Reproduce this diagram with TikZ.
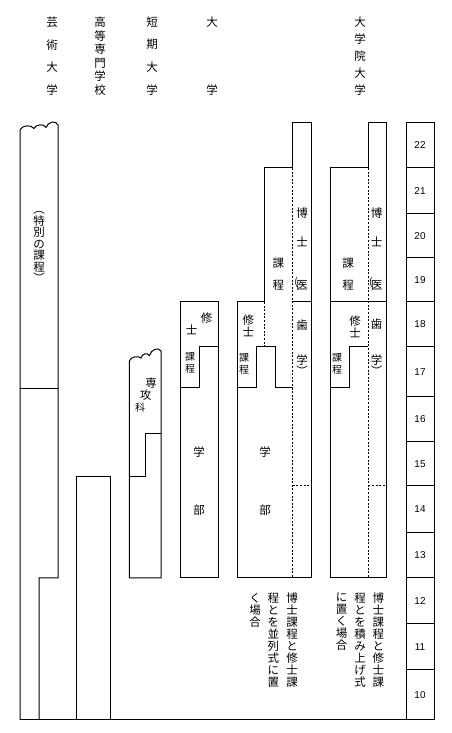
\documentclass[tikz,border=0pt]{standalone}
\usepackage{fontspec}
\newfontfamily\jpf{Noto Sans CJK JP}
\newfontfamily\numf{Liberation Sans}
\usepackage{tikz}
\tikzset{
  ln/.style={line width=1pt,black},
  dl/.style={line width=1pt,black,dash pattern=on 2pt off 1.6pt},
  jp/.style={font=\jpf\fontsize{11.5}{12}\selectfont,inner sep=0pt,align=center},
  vt/.style={font=\jpf\fontsize{11.5}{#1}\selectfont,inner sep=0pt,align=center},
  sm/.style={font=\jpf\fontsize{10}{11.5}\selectfont,inner sep=0pt,align=center},
  num/.style={font=\numf\fontsize{10}{12}\selectfont,inner sep=0pt}
}

\begin{document}
\begin{tikzpicture}[x=1pt,y=1pt]
\useasboundingbox (0,0) rectangle (452,733);
\node[vt=22.7] (geidai) at (52,677) {芸\\術\\大\\学};
\node[vt=13.5] (kosen) at (100,677) {高\\等\\専\\門\\学\\校};
\node[vt=22.7] (tandai) at (152,677) {短\\期\\大\\学};
\node[vt=68] (daigaku) at (212,677) {大\\学};
\node[vt=17] (daigakuin) at (360,677) {大\\学\\院\\大\\学};
\draw[ln] (20,13) -- (406,13);
\draw[ln] (39,13) -- (39,155) -- (58,155) -- (58,608)
  .. controls (56,613) and (48,611.5) .. (46,605.5)
  .. controls (44,609.5) and (36,609) .. (34,604.5)
  .. controls (31,608.5) and (22,608) .. (20,603) -- (20,13);
\draw[ln] (20,344) -- (58,344);
\node[vt=11.5] (tokubetsu) at (39,486) {︵\\特\\別\\の\\課\\程\\︶};
\draw[ln] (76.7,13) rectangle (110,256);
\draw[ln] (129.3,155) -- (129.3,372)
  .. controls (131,376.5) and (138,377.5) .. (141,375)
  .. controls (142,379.5) and (147,380.5) .. (149.5,377.5)
  .. controls (151,384) and (159,386) .. (161,382) -- (161,155) -- cycle;
\draw[ln] (129.3,256) -- (145,256) -- (145,299) -- (161,299);
\node[jp] (senko1) at (151,350) {専};
\node[jp] (senko2) at (145.7,338) {攻};
\node[sm] (senko3) at (140,325) {科};
\draw[ln] (180,155) rectangle (218.3,431);
\draw[ln] (180,345) -- (199.3,345) -- (199.3,386) -- (218.3,386);
\node[jp] (shu4a) at (206.7,415) {修};
\node[jp] (shu4b) at (191.7,403) {士};
\node[sm] (katei4) at (190,370) {課\\程};
\node[vt=58] (gakubu4) at (199,252) {学\\部};
\draw[ln] (237.3,155) -- (237.3,431) -- (264.3,431) -- (264.3,565) -- (292.7,565)
  -- (292.7,610) -- (311.7,610) -- (311.7,155) -- cycle;
\draw[ln] (292.7,431) -- (311.7,431);
\draw[ln] (237.3,345) -- (256,345) -- (256,386) -- (275,386) -- (275,345) -- (292.7,345);
\draw[dl] (264.3,431) -- (264.3,386);
\draw[dl] (292.7,565) -- (292.7,155);
\draw[dl] (292.7,247) -- (311.7,247);
\node[vt=11.7] (shu5) at (248.3,407) {修\\士};
\node[sm] (katei5) at (244,369) {課\\程};
\node[vt=22] (hakase5) at (278.3,459) {課\\程};
\node[jp] (haku5a) at (302,520) {博};
\node[jp] (haku5b) at (302,491) {士};
\node[sm] (paren5) at (296,451) {(};
\node[jp] (haku5c) at (302,448) {医};
\node[jp] (haku5d) at (302,408) {歯};
\node[vt=10] (haku5e) at (302,368) {学\\︶};
\node[vt=58] (gakubu5) at (265,252) {学\\部};
\draw[ln] (330,155) -- (330,565) -- (368.3,565) -- (368.3,610) -- (386.7,610)
  -- (386.7,155) -- cycle;
\draw[ln] (330,431) -- (386.7,431);
\draw[ln] (330,345) -- (349.3,345) -- (349.3,386) -- (368.3,386);
\draw[dl] (368.3,565) -- (368.3,155);
\draw[dl] (368.3,247) -- (386.7,247);
\node[vt=22] (hakase6) at (348,459) {課\\程};
\node[vt=10] (shu6) at (355,406.3) {修\\士};
\node[sm] (katei6) at (337,369) {課\\程};
\node[jp] (haku6a) at (376.7,520) {博};
\node[jp] (haku6b) at (376.7,491) {士};
\node[sm] (paren6) at (370.7,451) {(};
\node[jp] (haku6c) at (376.7,448) {医};
\node[jp] (haku6d) at (376.7,409) {歯};
\node[vt=10] (haku6e) at (376.7,368) {学\\︶};
\node[vt=12] (heiretsu1) at (292,93) {博\\士\\課\\程\\と\\修\\士\\課};
\node[vt=12] (heiretsu2) at (273.3,93) {程\\と\\を\\並\\列\\式\\に\\置};
\node[vt=12] (heiretsu3) at (255,123) {く\\場\\合};
\node[vt=12] (tsumiage1) at (378.3,93) {博\\士\\課\\程\\と\\修\\士\\課};
\node[vt=12] (tsumiage2) at (360,93) {程\\と\\を\\積\\み\\上\\げ\\式};
\node[vt=12] (tsumiage3) at (341.7,111) {に\\置\\く\\場\\合};
\foreach \a/\lo/\hi in {10/13/63,11/63/109,12/109/155,13/155/200,14/200/247,
  15/247/291,16/291/336,17/336/386,18/386/431,19/431/475,20/475/519,21/519/565,22/565/610}{
  \draw[ln] (406,\lo) rectangle (434,\hi);
  \node[num] (age\a) at (420,{(\lo+\hi)/2}) {\a};
}
\end{tikzpicture}
\end{document}
